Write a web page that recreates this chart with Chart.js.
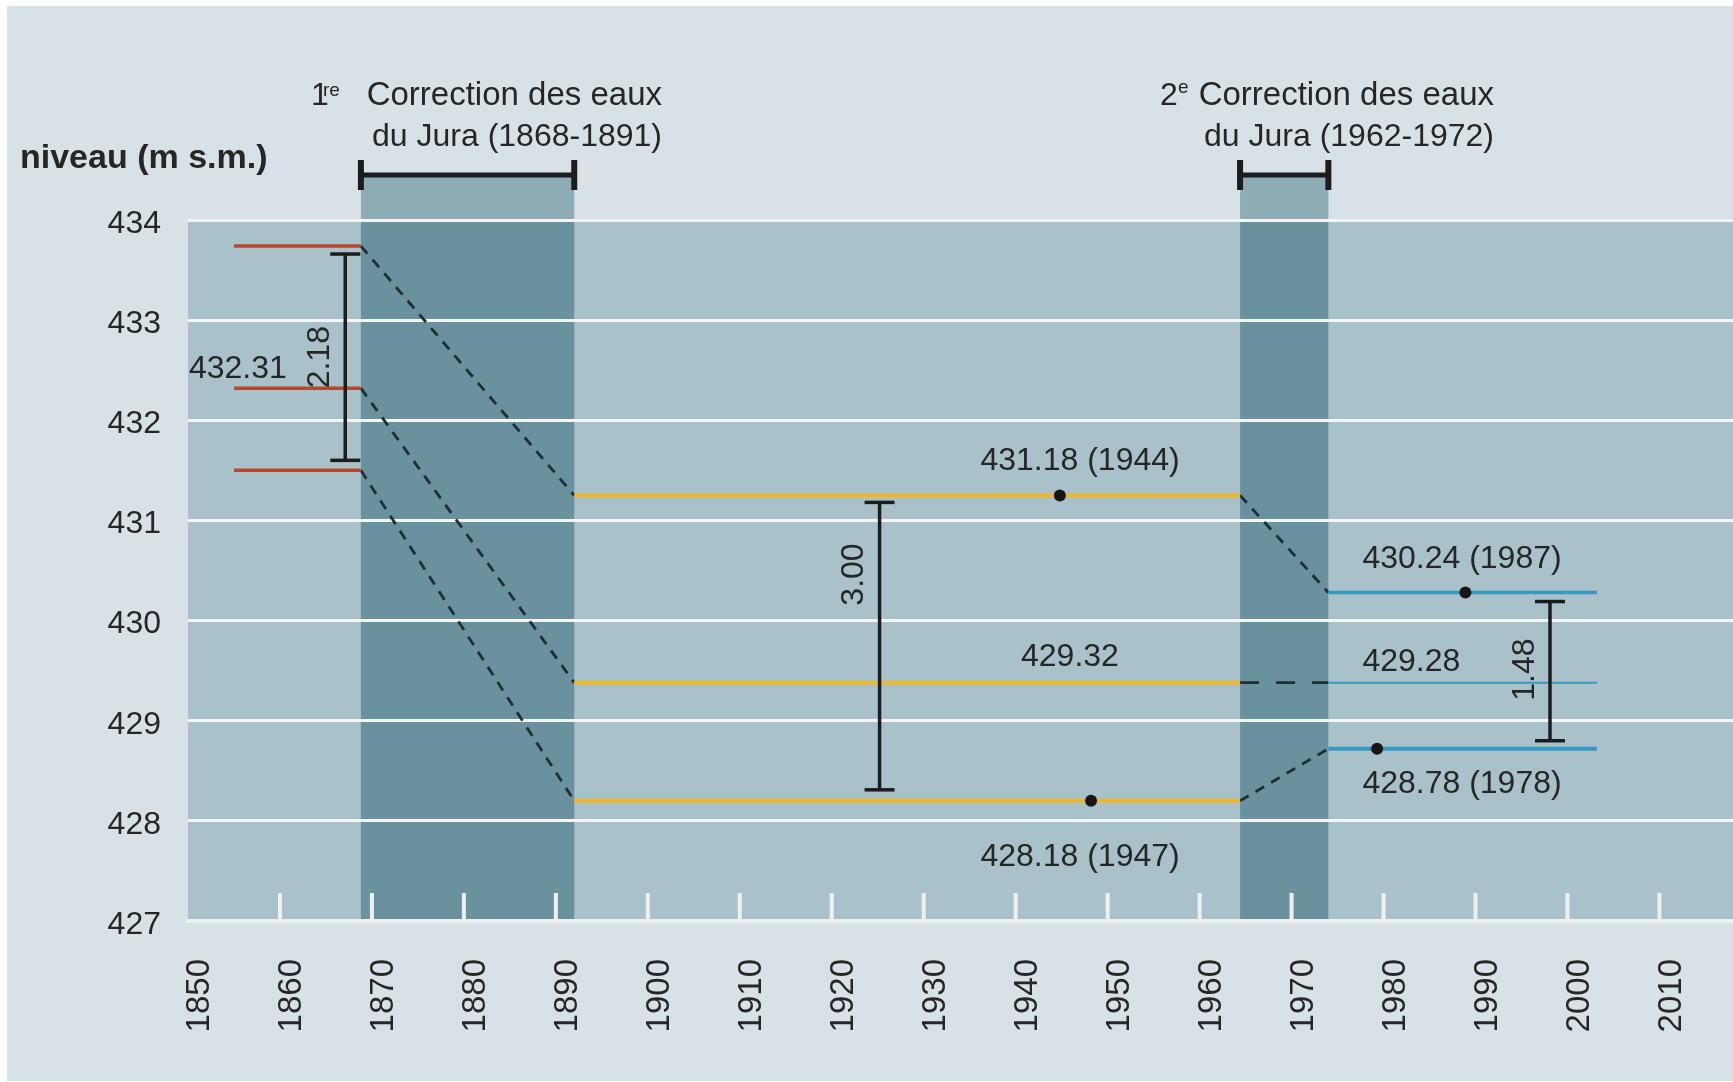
<!DOCTYPE html>
<html>
<head>
<meta charset="utf-8">
<title>Niveau des lacs du pied du Jura</title>
<script src="https://cdn.jsdelivr.net/npm/chart.js@4.4.0/dist/chart.umd.min.js"></script>
<style>
    html, body { margin: 0; padding: 0; background: #ffffff; }
    #wrap { width: 1733px; height: 1082px; }
</style>
</head>
<body>
<div id="wrap"><canvas id="levelChart" width="1733" height="1082"></canvas></div>
<script>
// Axis ticks
const yearTicks = [1850, 1860, 1870, 1880, 1890, 1900, 1910, 1920, 1930, 1940, 1950, 1960, 1970, 1980, 1990, 2000, 2010];
const levelTicks = [427, 428, 429, 430, 431, 432, 433, 434];

// Correction works (years covered by the dark bands)
const correction1 = [1868.8, 1892];
const correction2 = [1964.4, 1974];

// Levels per period: max, mean, min (m s.m.)
const beforeYears = [1855, 1868.8];
const beforeLevels = [433.74, 432.32, 431.50];
const betweenYears = [1892, 1964.4];
const betweenLevels = [431.25, 429.38, 428.20];
const afterYears = [1974, 2003.2];
const afterLevels = [430.28, 429.38, 428.72];

// Extreme events (dots)
const extremeYears = [1944.8, 1948.2, 1988.9, 1979.3];
const extremeLevels = [431.25, 428.20, 430.28, 428.72];

// Amplitude bars
const rangeYears = [1867.1, 1925.2, 1998.1];
const rangeTops = [433.66, 431.18, 430.19];
const rangeBottoms = [431.60, 428.31, 428.80];
const rangeLabels = ['2.18', '3.00', '1.48'];

const FONT = "'Liberation Sans', Arial, sans-serif";
const TEXT = '#262626';
const DASH = '#1f2e34';

function levelSegments(years, levels, color, widths) {
    return levels.map((lvl, i) => ({
        data: [{x: years[0], y: lvl}, {x: years[1], y: lvl}],
        borderColor: color,
        borderWidth: widths[i],
        pointRadius: 0,
        order: 3
    }));
}

function connectors(fromYears, fromLevels, toYears, toLevels, dashes) {
    return fromLevels.map((lvl, i) => ({
        data: [{x: fromYears[1], y: lvl}, {x: toYears[0], y: toLevels[i]}],
        borderColor: DASH,
        borderWidth: 2.8,
        borderDash: dashes[i],
        pointRadius: 0,
        order: 4
    }));
}

const rangeBars = rangeYears.map((yr, i) => ({
    data: [{x: yr, y: rangeTops[i]}, {x: yr, y: rangeBottoms[i]}],
    borderColor: '#1c1c1c',
    borderWidth: 3.5,
    pointStyle: 'line',
    pointRadius: 15,
    pointBorderWidth: 3.5,
    pointBorderColor: '#1c1c1c',
    order: 1
}));

const datasets = [
    {
        data: extremeYears.map((yr, i) => ({x: yr, y: extremeLevels[i]})),
        showLine: false,
        pointRadius: 6,
        pointBackgroundColor: '#161616',
        pointBorderWidth: 0,
        order: 0
    },
    ...rangeBars,
    ...levelSegments(beforeYears, beforeLevels, '#b4492d', [3.5, 3.5, 3.5]),
    ...levelSegments(betweenYears, betweenLevels, '#f0b828', [4, 4, 4]),
    ...levelSegments(afterYears, afterLevels, '#3599c2', [3.5, 2, 4]),
    ...connectors(beforeYears, beforeLevels, betweenYears, betweenLevels, [[10, 8], [10, 8], [10, 8]]),
    ...connectors(betweenYears, betweenLevels, afterYears, afterLevels, [[10, 8], [19, 17], [10, 8]])
];

// Background, plot area and correction bands
const backdrop = {
    id: 'backdrop',
    beforeDraw(chart) {
        const {ctx, chartArea: a, scales: {x}} = chart;
        ctx.save();
        ctx.fillStyle = '#ffffff';
        ctx.fillRect(0, 0, chart.width, chart.height);
        ctx.fillStyle = '#d8e2e6';
        ctx.fillRect(7, 6, chart.width - 7, chart.height - 7);
        ctx.fillStyle = '#a9c1c8';
        ctx.fillRect(a.left, a.top, a.right - a.left, a.bottom - a.top);
        [correction1, correction2].forEach(band => {
            const x0 = x.getPixelForValue(band[0]);
            const x1 = x.getPixelForValue(band[1]);
            ctx.fillStyle = '#8eacb6';
            ctx.fillRect(x0, 175, x1 - x0, a.top - 175);
            ctx.fillStyle = '#6a919e';
            ctx.fillRect(x0, a.top, x1 - x0, a.bottom - a.top);
        });
        ctx.restore();
    },
    beforeDatasetsDraw(chart) {
        // white tick marks standing on the bottom axis
        const {ctx, chartArea: a, scales: {x}} = chart;
        ctx.save();
        ctx.fillStyle = '#eef0ef';
        yearTicks.slice(1).forEach(yr => {
            const px = x.getPixelForValue(yr);
            ctx.fillRect(px - 2, a.bottom - 28, 4, 28);
        });
        ctx.restore();
    }
};

// Value labels inside the plot
const notes = [
    {text: '432.31', year: 1850.1, level: 432.51, align: 'left'},
    {text: '431.18 (1944)', year: 1947.0, level: 431.59, align: 'center'},
    {text: '429.32', year: 1945.9, level: 429.63, align: 'center'},
    {text: '428.18 (1947)', year: 1947.0, level: 427.64, align: 'center'},
    {text: '430.24 (1987)', year: 1977.7, level: 430.61, align: 'left'},
    {text: '429.28', year: 1977.7, level: 429.58, align: 'left'},
    {text: '428.78 (1978)', year: 1977.7, level: 428.37, align: 'left'}
];
const rangeNoteLevels = [432.63, 430.46, 429.51];

const annotations = {
    id: 'annotations',
    afterDatasetsDraw(chart) {
        const {ctx, scales: {x, y}} = chart;
        ctx.save();
        ctx.fillStyle = TEXT;
        ctx.font = '32px ' + FONT;
        ctx.textBaseline = 'middle';
        notes.forEach(n => {
            ctx.textAlign = n.align;
            ctx.fillText(n.text, x.getPixelForValue(n.year), y.getPixelForValue(n.level));
        });
        ctx.textAlign = 'center';
        rangeLabels.forEach((lbl, i) => {
            ctx.save();
            ctx.translate(x.getPixelForValue(rangeYears[i]) - 25, y.getPixelForValue(rangeNoteLevels[i]));
            ctx.rotate(-Math.PI / 2);
            ctx.fillText(lbl, 0, 0);
            ctx.restore();
        });
        ctx.restore();
    },
    afterDraw(chart) {
        const {ctx, scales: {x}} = chart;
        ctx.save();
        ctx.fillStyle = TEXT;
        ctx.textBaseline = 'alphabetic';

        ctx.font = 'bold 34px ' + FONT;
        ctx.textAlign = 'left';
        ctx.fillText('niveau (m s.m.)', 20, 168);

        // brackets over the correction bands
        ctx.strokeStyle = '#1c1c1c';
        [correction1, correction2].forEach(band => {
            const x0 = x.getPixelForValue(band[0]);
            const x1 = x.getPixelForValue(band[1]);
            ctx.lineWidth = 5;
            ctx.beginPath();
            ctx.moveTo(x0, 175);
            ctx.lineTo(x1, 175);
            ctx.stroke();
            ctx.lineWidth = 6;
            ctx.beginPath();
            ctx.moveTo(x0, 160);
            ctx.lineTo(x0, 190);
            ctx.moveTo(x1, 160);
            ctx.lineTo(x1, 190);
            ctx.stroke();
        });

        ctx.font = '32px ' + FONT;
        ctx.fillText('1', 311, 105);
        ctx.fillText('2', 1160, 105);
        ctx.font = '19px ' + FONT;
        ctx.fillText('re', 323, 96);
        ctx.fillText('e', 1178, 93);

        ctx.textAlign = 'right';
        ctx.font = '33px ' + FONT;
        ctx.fillText('Correction des eaux', 662, 105);
        ctx.fillText('Correction des eaux', 1494, 105);
        ctx.font = '32px ' + FONT;
        ctx.fillText('du Jura (1868-1891)', 662, 146);
        ctx.fillText('du Jura (1962-1972)', 1494, 146);
        ctx.restore();
    }
};

new Chart(document.getElementById('levelChart'), {
    type: 'scatter',
    data: {datasets: datasets.map(d => Object.assign({showLine: true, fill: false}, d))},
    options: {
        responsive: false,
        animation: false,
        layout: {autoPadding: false, padding: {top: 220, left: 0, right: 0, bottom: 0}},
        plugins: {
            legend: {display: false},
            tooltip: {enabled: false}
        },
        scales: {
            x: {
                type: 'linear',
                min: 1850,
                max: 2018,
                afterBuildTicks: s => { s.ticks = yearTicks.map(v => ({value: v})); },
                afterFit: s => { s.height = 161; s.paddingLeft = 0; s.paddingRight = 0; },
                grid: {display: false, drawTicks: false},
                border: {display: true, color: '#eef0ef', width: 4},
                ticks: {
                    autoSkip: false,
                    minRotation: 90,
                    maxRotation: 90,
                    padding: 38,
                    labelOffset: 12,
                    color: TEXT,
                    font: {family: FONT, size: 33},
                    callback: v => String(v)
                }
            },
            y: {
                type: 'linear',
                min: 427,
                max: 434,
                afterBuildTicks: s => { s.ticks = levelTicks.map(v => ({value: v})); },
                afterFit: s => { s.width = 188; s.paddingTop = 0; s.paddingBottom = 0; },
                grid: {color: '#f3f6f6', lineWidth: 3, drawTicks: false},
                border: {display: false},
                ticks: {
                    padding: 27,
                    labelOffset: 4,
                    color: TEXT,
                    font: {family: FONT, size: 32},
                    callback: v => String(v)
                }
            }
        }
    },
    plugins: [backdrop, annotations]
});
</script>
</body>
</html>
